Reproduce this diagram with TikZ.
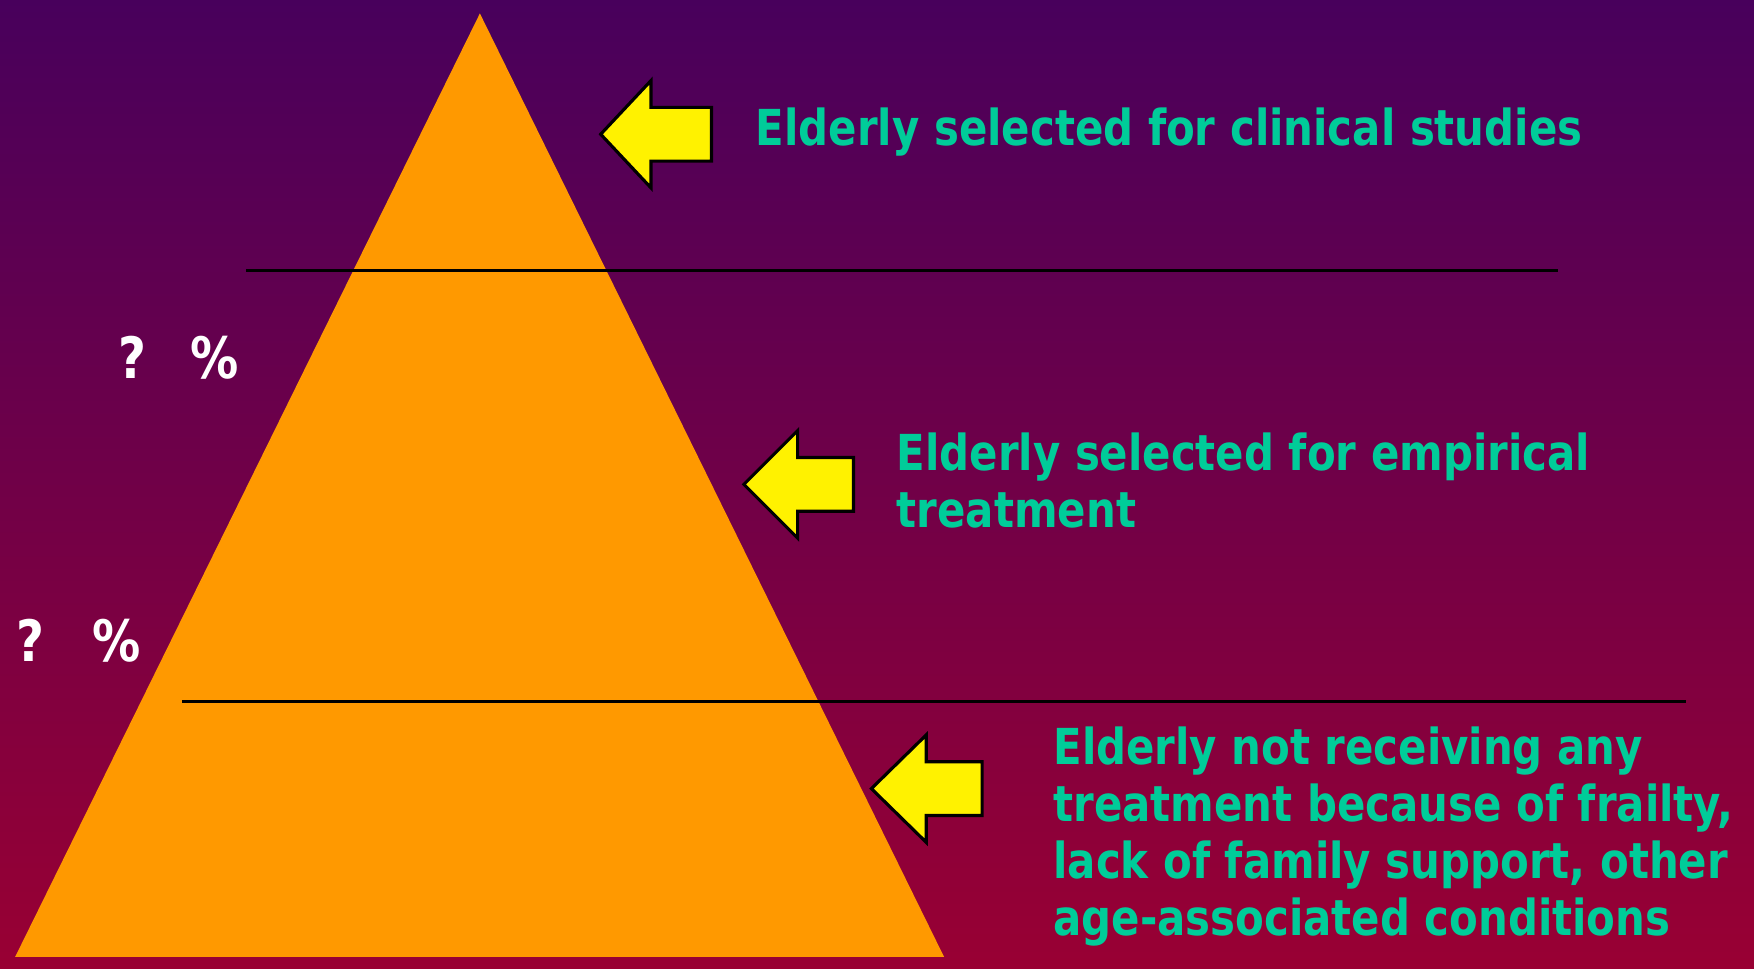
\documentclass[tikz,border=0pt]{standalone}
\usepackage{fontspec}
\setmainfont{DejaVu Sans}[FakeStretch=0.845]
\definecolor{bgtop}{HTML}{48005C}
\definecolor{bgbot}{HTML}{990033}
\definecolor{tri}{HTML}{FF9900}
\definecolor{txt}{HTML}{00CC99}
\begin{document}
\begin{tikzpicture}[x=0.01cm,y=-0.01cm,
  lab/.style={anchor=base west, inner sep=0pt, text=txt, font=\bfseries\fontsize{12.6}{15}\selectfont},
  qm/.style={anchor=base west, inner sep=0pt, text=white, font=\bfseries\fontsize{14.5}{16}\selectfont},
  sepline/.style={draw=black, line width=0.7pt},
  yarrow/.style={fill=yellow, draw=black, line width=0.8pt, line join=miter}]
% background
\shade[top color=bgtop, bottom color=bgbot] (0,0) rectangle (1568,866.25);
\useasboundingbox (0,0) rectangle (1568,866.25);
% pyramid
\fill[tri] (429,12) -- (844,855.5) -- (13.5,855.5) -- cycle;
% separator lines
\coordinate (l1a) at (220,242); \coordinate (l1b) at (1393,242);
\coordinate (l2a) at (163,627); \coordinate (l2b) at (1507,627);
\draw[sepline] (l1a) -- (l1b);
\draw[sepline] (l2a) -- (l2b);
% arrows
\draw[yarrow] (537,120) -- (582,72) -- (582,96) -- (636,96) -- (636,144) -- (582,144) -- (582,168) -- cycle;
\draw[yarrow] (665,433) -- (713,385) -- (713,409) -- (763,409) -- (763,457) -- (713,457) -- (713,481) -- cycle;
\draw[yarrow] (779,705) -- (828,657) -- (828,681) -- (878,681) -- (878,729) -- (828,729) -- (828,753) -- cycle;
% texts
\node[lab] (t1) at (675,130) {Elderly selected for clinical studies};
\node[lab] (t2a) at (801,421) {Elderly selected for empirical};
\node[lab] (t2b) at (801,472) {treatment};
\node[lab] (t3a) at (941,683) {Elderly not receiving any};
\node[lab] (t3b) at (941,734) {treatment because of frailty,};
\node[lab] (t3c) at (941,785) {lack of family support, other};
\node[lab] (t3d) at (941,836) {age-associated conditions};
% question marks
\node[qm] (q1) at (105,338) {?};
\node[qm] (p1) at (170,338) {\%};
\node[qm] (q2) at (14,591) {?};
\node[qm] (p2) at (82,591) {\%};
\end{tikzpicture}
\end{document}
